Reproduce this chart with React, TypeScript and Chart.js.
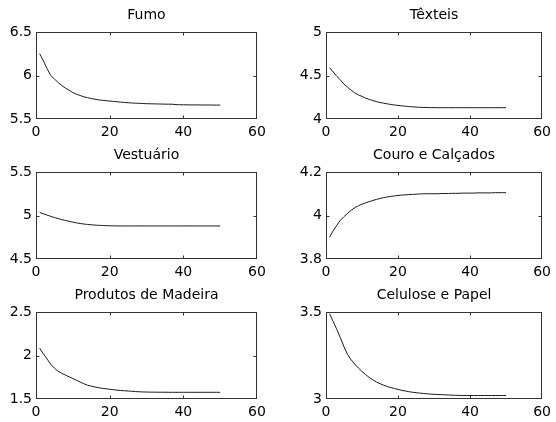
import React, { useEffect, useRef } from "react";
import { Chart, registerables } from "chart.js";

Chart.register(...registerables);

const steps = [
  1, 2, 3, 4, 5, 6, 7, 8, 9, 10, 11, 12, 13, 14, 15, 16, 17, 18, 19, 20, 21, 22, 23, 24, 25,
  26, 27, 28, 29, 30, 31, 32, 33, 34, 35, 36, 37, 38, 39, 40, 41, 42, 43, 44, 45, 46, 47, 48, 49, 50,
];

const fumo = [
  6.25, 6.17, 6.08, 6.0, 5.96, 5.92, 5.885, 5.855, 5.83, 5.805,
  5.785, 5.77, 5.755, 5.745, 5.735, 5.727, 5.72, 5.715, 5.71, 5.706,
  5.702, 5.698, 5.694, 5.69, 5.687, 5.684, 5.682, 5.68, 5.678, 5.676,
  5.675, 5.674, 5.673, 5.672, 5.671, 5.67, 5.67, 5.665, 5.664, 5.663,
  5.663, 5.662, 5.662, 5.662, 5.661, 5.661, 5.661, 5.66, 5.66, 5.66,
];

const texteis = [
  4.59, 4.54, 4.49, 4.45, 4.4, 4.365, 4.33, 4.3, 4.277, 4.26,
  4.24, 4.225, 4.212, 4.2, 4.19, 4.182, 4.174, 4.167, 4.161, 4.156,
  4.151, 4.147, 4.143, 4.14, 4.137, 4.134, 4.133, 4.132, 4.131, 4.131,
  4.13, 4.13, 4.13, 4.13, 4.13, 4.13, 4.13, 4.13, 4.13, 4.13,
  4.13, 4.13, 4.13, 4.13, 4.13, 4.13, 4.13, 4.13, 4.13, 4.13,
];

const vestuario = [
  5.035, 5.02, 5.005, 4.99, 4.977, 4.965, 4.953, 4.943, 4.933, 4.924,
  4.915, 4.908, 4.902, 4.897, 4.893, 4.89, 4.887, 4.885, 4.883, 4.882,
  4.881, 4.88, 4.88, 4.88, 4.88, 4.88, 4.88, 4.88, 4.88, 4.88,
  4.88, 4.88, 4.88, 4.88, 4.88, 4.88, 4.88, 4.88, 4.88, 4.88,
  4.88, 4.88, 4.88, 4.88, 4.88, 4.88, 4.88, 4.88, 4.88, 4.88,
];

const couro = [
  3.9, 3.93, 3.955, 3.978, 3.995, 4.01, 4.024, 4.036, 4.045, 4.052,
  4.058, 4.064, 4.069, 4.074, 4.078, 4.082, 4.085, 4.088, 4.09, 4.092,
  4.094, 4.095, 4.096, 4.097, 4.098, 4.099, 4.1, 4.1, 4.1, 4.1,
  4.1, 4.101, 4.101, 4.101, 4.102, 4.102, 4.102, 4.103, 4.103, 4.103,
  4.103, 4.104, 4.104, 4.104, 4.104, 4.104, 4.105, 4.105, 4.105, 4.105,
];

const madeira = [
  2.085, 2.02, 1.96, 1.9, 1.855, 1.82, 1.795, 1.775, 1.755, 1.735,
  1.715, 1.695, 1.675, 1.658, 1.648, 1.638, 1.63, 1.623, 1.617, 1.612,
  1.607, 1.602, 1.598, 1.595, 1.592, 1.589, 1.585, 1.583, 1.581, 1.58,
  1.579, 1.579, 1.578, 1.578, 1.578, 1.577, 1.577, 1.577, 1.577, 1.577,
  1.577, 1.577, 1.577, 1.577, 1.577, 1.577, 1.577, 1.577, 1.577, 1.577,
];

const celulose = [
  3.49, 3.445, 3.4, 3.352, 3.3, 3.255, 3.225, 3.2, 3.178, 3.158,
  3.14, 3.124, 3.11, 3.098, 3.088, 3.08, 3.072, 3.066, 3.06, 3.055,
  3.05, 3.046, 3.042, 3.039, 3.036, 3.034, 3.032, 3.03, 3.028, 3.027,
  3.026, 3.025, 3.024, 3.023, 3.022, 3.021, 3.021, 3.02, 3.02, 3.02,
  3.02, 3.02, 3.02, 3.02, 3.02, 3.02, 3.02, 3.02, 3.02, 3.02,
];

const titles = [
  "Fumo",
  "Têxteis",
  "Vestuário",
  "Couro e Calçados",
  "Produtos de Madeira",
  "Celulose e Papel",
];
const seriesList = [fumo, texteis, vestuario, couro, madeira, celulose];
const yMins = [5.5, 4, 4.5, 3.8, 1.5, 3];
const yMaxs = [6.5, 5, 5.5, 4.2, 2.5, 3.5];
const ySteps = [0.5, 0.5, 0.5, 0.2, 0.5, 0.5];
const xMin = 0;
const xMax = 60;
const xStep = 20;

const FONT = { family: "'DejaVu Sans', sans-serif", size: 14 };

function framePlugin(title: string) {
  return {
    id: "frame",
    afterDraw(chart: any) {
      const { ctx, chartArea } = chart;
      const l = Math.round(chartArea.left) + 0.5;
      const r = Math.round(chartArea.right) - 0.5;
      const t = Math.round(chartArea.top) + 0.5;
      const b = Math.round(chartArea.bottom) - 0.5;
      ctx.save();
      ctx.strokeStyle = "#333";
      ctx.lineWidth = 1;
      ctx.strokeRect(l, t, r - l, b - t);
      const xs = chart.scales.x;
      const ys = chart.scales.y;
      ctx.beginPath();
      xs.ticks.forEach((tk: any) => {
        if (tk.value <= xs.min || tk.value >= xs.max) return;
        const px = Math.round(xs.getPixelForValue(tk.value)) + 0.5;
        ctx.moveTo(px, b);
        ctx.lineTo(px, b - 3);
        ctx.moveTo(px, t);
        ctx.lineTo(px, t + 3);
      });
      ys.ticks.forEach((tk: any) => {
        if (tk.value <= ys.min + 1e-9 || tk.value >= ys.max - 1e-9) return;
        const py = Math.round(ys.getPixelForValue(tk.value)) + 0.5;
        ctx.moveTo(l, py);
        ctx.lineTo(l + 3, py);
        ctx.moveTo(r, py);
        ctx.lineTo(r - 3, py);
      });
      ctx.stroke();
      ctx.fillStyle = "#000";
      ctx.font = "14px 'DejaVu Sans', sans-serif";
      ctx.textAlign = "center";
      ctx.textBaseline = "alphabetic";
      ctx.fillText(title, (chartArea.left + chartArea.right) / 2, 19);
      ctx.restore();
    },
  };
}

function fmt(v: number) {
  return String(Number(Number(v).toFixed(3)));
}

function Panel({ idx }: { idx: number }) {
  const ref = useRef<HTMLCanvasElement | null>(null);
  const col = idx % 2;
  const row = Math.floor(idx / 2);
  const leftW = col === 0 ? 36 : 48;
  const padRight = col === 0 ? 21 : 9;
  useEffect(() => {
    if (!ref.current) return;
    const vals = seriesList[idx];
    const chart = new Chart(ref.current, {
      type: "line",
      data: {
        datasets: [
          {
            data: steps.map((x, i) => ({ x, y: vals[i] })),
            borderColor: "#1a1a1a",
            borderWidth: 1,
            pointRadius: 0,
            tension: 0,
            fill: false,
          },
        ],
      },
      options: {
        animation: false,
        responsive: false,
        devicePixelRatio: 1,
        layout: { padding: { top: 32, right: padRight, left: 0, bottom: 0 } },
        plugins: {
          legend: { display: false },
          tooltip: { enabled: false },
          title: { display: false },
        },
        scales: {
          x: {
            type: "linear",
            min: xMin,
            max: xMax,
            ticks: {
              stepSize: xStep,
              font: FONT,
              color: "#000",
              padding: 5,
              maxRotation: 0,
              autoSkip: false,
              callback: (v: any) => fmt(v),
            },
            grid: { display: false, drawTicks: false },
            border: { display: false },
            afterFit: (s: any) => {
              s.height = 21;
            },
          },
          y: {
            type: "linear",
            min: yMins[idx],
            max: yMaxs[idx],
            ticks: {
              stepSize: ySteps[idx],
              font: FONT,
              color: "#000",
              padding: 4,
              autoSkip: false,
              callback: (v: any) => fmt(v),
            },
            grid: { display: false, drawTicks: false },
            border: { display: false },
            afterFit: (s: any) => {
              s.width = leftW;
            },
          },
        },
      } as any,
      plugins: [framePlugin(titles[idx])],
    });
    return () => chart.destroy();
  }, [idx]);
  return (
    <canvas
      ref={ref}
      width={278}
      height={140}
      style={{
        position: "absolute",
        left: col * 278,
        top: row * 140,
        width: 278,
        height: 140,
      }}
    />
  );
}

export default function App() {
  return (
    <div
      style={{
        position: "absolute",
        left: 0,
        top: 0,
        width: 556,
        height: 422,
        background: "#fff",
        overflow: "hidden",
      }}
    >
      {[0, 1, 2, 3, 4, 5].map((i) => (
        <Panel key={i} idx={i} />
      ))}
    </div>
  );
}
